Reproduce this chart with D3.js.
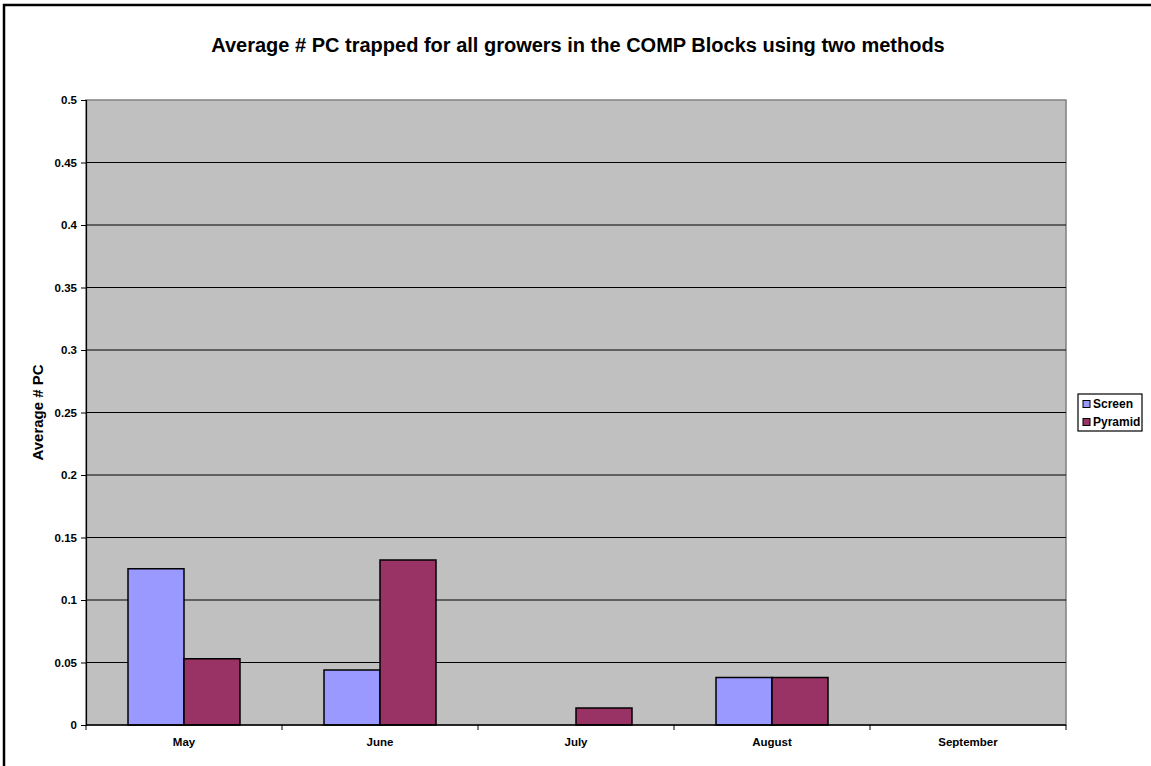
<!DOCTYPE html>
<html>
<head>
<meta charset="utf-8">
<script src="https://cdn.jsdelivr.net/npm/d3@7"></script>
<style>
  body { margin: 0; background: #fff; overflow: hidden; }
  svg { display: block; font-family: Arial, "Liberation Sans", sans-serif; }
</style>
</head>
<body>
<svg id="chart" width="1151" height="766"></svg>
<script>
// Monthly averages of PC trapped, per trapping method
const months = ["May", "June", "July", "August", "September"];
const seriesNames = ["Screen", "Pyramid"];
const screenValues = [0.125, 0.044, 0, 0.038, 0];
const pyramidValues = [0.053, 0.132, 0.0136, 0.038, 0];
const yTicks = [0, 0.05, 0.1, 0.15, 0.2, 0.25, 0.3, 0.35, 0.4, 0.45, 0.5];
const colors = ["#9999FF", "#993366"];

const svg = d3.select("#chart");
const plot = { left: 86, right: 1066, top: 100, bottom: 725 };

// outer chart frame (runs off the right and bottom edges)
svg.append("rect")
  .attr("x", 4).attr("y", 5).attr("width", 1170).attr("height", 790)
  .attr("fill", "#fff").attr("stroke", "#000").attr("stroke-width", 2.5);

// title
svg.append("text")
  .attr("x", 578).attr("y", 52)
  .attr("text-anchor", "middle")
  .attr("font-size", 20).attr("font-weight", "bold")
  .text("Average # PC trapped for all growers in the COMP Blocks using two methods");

const x = d3.scaleBand().domain(months).range([plot.left, plot.right]).paddingInner(0).paddingOuter(0);
const xInner = d3.scaleBand().domain(seriesNames).range([0, x.bandwidth()]).paddingInner(0).paddingOuter(0.75);
const y = d3.scaleLinear().domain([0, 0.5]).range([plot.bottom, plot.top]);

// plot area background
svg.append("rect")
  .attr("x", plot.left).attr("y", plot.top)
  .attr("width", plot.right - plot.left).attr("height", plot.bottom - plot.top)
  .attr("fill", "#C0C0C0").attr("stroke", "#808080").attr("stroke-width", 1.5);

// gridlines
svg.append("g").selectAll("line")
  .data(yTicks.filter(t => t > 0 && t < 0.5))
  .join("line")
  .attr("x1", plot.left).attr("x2", plot.right)
  .attr("y1", d => y(d)).attr("y2", d => y(d))
  .attr("stroke", "#000").attr("stroke-width", 1.2);

// bars
const data = months.map((m, i) => ({ month: m, values: [screenValues[i], pyramidValues[i]] }));
const groups = svg.append("g").selectAll("g")
  .data(data).join("g")
  .attr("transform", d => `translate(${x(d.month)},0)`);
groups.selectAll("rect")
  .data(d => d.values.map((v, j) => ({ name: seriesNames[j], v, j })).filter(e => e.v > 0))
  .join("rect")
  .attr("x", d => xInner(d.name))
  .attr("y", d => y(d.v))
  .attr("width", xInner.bandwidth())
  .attr("height", d => y(0) - y(d.v))
  .attr("fill", d => colors[d.j])
  .attr("stroke", "#000").attr("stroke-width", 1.5);

// y axis
const yAxis = d3.axisLeft(y).tickValues(yTicks).tickSize(5).tickPadding(4)
  .tickFormat(d => String(+d.toFixed(2)));
const gy = svg.append("g").attr("transform", `translate(${plot.left},0)`).call(yAxis);
gy.select(".domain").attr("stroke", "#000").attr("stroke-width", 1.2);
gy.selectAll(".tick line").attr("stroke", "#000");
gy.selectAll(".tick text").attr("font-size", 11.5).attr("font-weight", "bold").attr("fill", "#000")
  .attr("font-family", "Arial, 'Liberation Sans', sans-serif");

// x axis with ticks between categories
const gx = svg.append("g").attr("transform", `translate(0,${plot.bottom})`);
gx.append("line").attr("x1", plot.left).attr("x2", plot.right).attr("y1", 0).attr("y2", 0)
  .attr("stroke", "#000").attr("stroke-width", 1.5);
gx.selectAll("line.tk")
  .data(months.map(m => x(m)).concat([plot.right]))
  .join("line").attr("class", "tk")
  .attr("x1", d => d).attr("x2", d => d).attr("y1", 0).attr("y2", 5)
  .attr("stroke", "#000");
gx.selectAll("text")
  .data(months).join("text")
  .attr("x", d => x(d) + x.bandwidth() / 2)
  .attr("y", 21)
  .attr("text-anchor", "middle")
  .attr("font-size", 11.5).attr("font-weight", "bold")
  .text(d => d);

// y axis title
svg.append("text")
  .attr("transform", `translate(43,${(plot.top + plot.bottom) / 2}) rotate(-90)`)
  .attr("text-anchor", "middle")
  .attr("font-size", 15).attr("font-weight", "bold")
  .text("Average # PC");

// legend
const lg = svg.append("g").attr("transform", "translate(1078,394)");
lg.append("rect").attr("x", 0).attr("y", 0).attr("width", 64).attr("height", 37)
  .attr("fill", "#fff").attr("stroke", "#000").attr("stroke-width", 1.2);
seriesNames.forEach((n, i) => {
  const row = lg.append("g").attr("transform", `translate(5,${10 + i * 18})`);
  row.append("rect").attr("x", 0).attr("y", -3.5).attr("width", 7).attr("height", 7)
    .attr("fill", colors[i]).attr("stroke", "#000");
  row.append("text").attr("x", 10).attr("y", 0).attr("dy", "0.35em")
    .attr("font-size", 12).attr("font-weight", "bold").text(n);
});
</script>
</body>
</html>
